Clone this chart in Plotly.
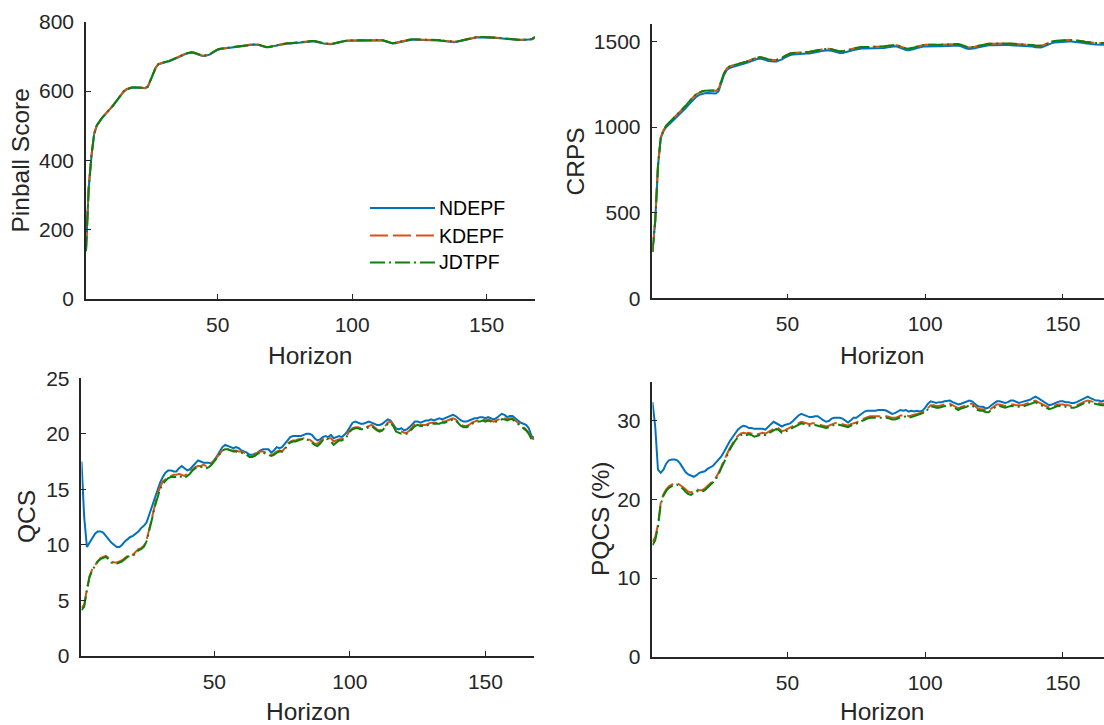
import plotly.graph_objects as go

# Forecast horizon (hours ahead)
HORIZON = list(range(1, 169))

# ---- Pinball score ----
PINBALL_NDEPF = [140, 320, 410, 475, 500, 512, 522, 531, 539, 547,
                 557, 567, 578, 589, 598, 604, 607, 609, 610, 609,
                 608, 608, 608, 612, 630, 652, 668, 677, 680, 682,
                 684, 686, 689, 692, 696, 699, 703, 707, 710, 711,
                 710, 707, 704, 702, 701, 702, 705, 710, 715, 719,
                 721, 722, 723, 723, 723, 724, 725, 726, 727, 729,
                 731, 733, 734, 734, 733, 730, 728, 726, 726, 727,
                 729, 731, 733, 735, 736, 737, 737, 738, 738, 739,
                 740, 741, 742, 743, 743, 743, 742, 740, 738, 736,
                 735, 735, 736, 738, 740, 742, 744, 745, 745, 745,
                 745, 745, 745, 745, 746, 746, 747, 747, 747, 747,
                 746, 744, 741, 738, 737, 738, 740, 742, 744, 746,
                 747, 748, 748, 748, 748, 748, 748, 748, 748, 748,
                 747, 746, 745, 744, 743, 742, 741, 741, 742, 744,
                 746, 748, 750, 752, 753, 754, 755, 755, 755, 755,
                 755, 755, 754, 753, 752, 751, 750, 749, 748, 748,
                 747, 747, 747, 747, 747, 747, 749, 754]
PINBALL_KDEPF = [142, 322, 412, 476, 501, 513, 523, 532, 540, 548,
                 558, 568, 579, 590, 599, 605, 608, 610, 611, 610,
                 609, 609, 609, 613, 631, 653, 669, 678, 681, 683,
                 685, 687, 690, 693, 697, 700, 704, 708, 711, 712,
                 711, 708, 705, 703, 702, 703, 706, 711, 716, 720,
                 722, 723, 724, 724, 724, 725, 726, 727, 728, 730,
                 732, 734, 735, 735, 734, 731, 729, 727, 727, 728,
                 730, 732, 734, 736, 737, 738, 738, 739, 739, 740,
                 741, 742, 743, 744, 744, 744, 743, 741, 739, 737,
                 736, 736, 737, 739, 741, 743, 745, 746, 746, 746,
                 746, 746, 746, 746, 747, 747, 748, 748, 748, 748,
                 747, 745, 742, 739, 738, 739, 741, 743, 745, 747,
                 748, 749, 749, 749, 749, 749, 749, 749, 749, 749,
                 748, 747, 746, 745, 744, 743, 742, 742, 743, 745,
                 747, 749, 751, 753, 754, 755, 756, 756, 756, 756,
                 756, 756, 755, 754, 753, 752, 751, 750, 749, 749,
                 748, 748, 748, 748, 748, 748, 750, 755]
PINBALL_JDTPF = [138, 318, 410, 476, 501, 513, 523, 532, 540, 548,
                 558, 568, 579, 590, 599, 605, 608, 610, 611, 610,
                 609, 609, 609, 613, 631, 653, 669, 678, 681, 683,
                 685, 687, 690, 693, 697, 700, 704, 708, 711, 712,
                 711, 708, 705, 703, 702, 703, 706, 711, 716, 720,
                 722, 723, 724, 724, 724, 725, 726, 727, 728, 730,
                 732, 734, 735, 735, 734, 731, 729, 727, 727, 728,
                 730, 732, 734, 736, 737, 738, 738, 739, 739, 740,
                 741, 742, 743, 744, 744, 744, 743, 741, 739, 737,
                 736, 736, 737, 739, 741, 743, 745, 746, 746, 746,
                 746, 746, 746, 746, 747, 747, 748, 748, 748, 748,
                 747, 745, 742, 739, 738, 739, 741, 743, 745, 747,
                 748, 749, 749, 749, 749, 749, 749, 749, 749, 749,
                 748, 747, 746, 745, 744, 743, 742, 742, 743, 745,
                 747, 749, 751, 753, 754, 755, 756, 756, 756, 756,
                 756, 756, 755, 754, 753, 752, 751, 750, 749, 749,
                 748, 748, 748, 748, 748, 748, 751, 756]

# ---- CRPS ----
CRPS_NDEPF = [272, 450, 770, 935, 975, 1000, 1015, 1030, 1045, 1060,
              1075, 1092, 1110, 1128, 1146, 1163, 1178, 1188, 1194, 1197,
              1199, 1199, 1198, 1196, 1210, 1260, 1305, 1333, 1345, 1350,
              1354, 1358, 1362, 1367, 1373, 1379, 1386, 1392, 1397, 1400,
              1398, 1392, 1386, 1383, 1382, 1383, 1387, 1395, 1405, 1414,
              1420, 1423, 1425, 1426, 1427, 1428, 1429, 1430, 1432, 1435,
              1438, 1442, 1446, 1448, 1448, 1445, 1440, 1435, 1433, 1433,
              1436, 1440, 1445, 1450, 1454, 1457, 1458, 1458, 1458, 1458,
              1458, 1458, 1459, 1460, 1462, 1465, 1468, 1470, 1471, 1468,
              1462, 1455, 1450, 1448, 1450, 1455, 1461, 1466, 1469, 1471,
              1472, 1472, 1472, 1472, 1472, 1472, 1473, 1474, 1475, 1476,
              1477, 1476, 1472, 1465, 1459, 1456, 1457, 1460, 1464, 1468,
              1472, 1475, 1477, 1478, 1479, 1479, 1479, 1479, 1479, 1479,
              1478, 1478, 1477, 1477, 1477, 1477, 1476, 1474, 1470, 1466,
              1464, 1465, 1470, 1478, 1486, 1490, 1493, 1495, 1497, 1498,
              1499, 1499, 1499, 1498, 1496, 1494, 1492, 1489, 1486, 1484,
              1483, 1482, 1482, 1482, 1482, 1481, 1481, 1480]
CRPS_KDEPF = [272, 452, 775, 940, 982, 1008, 1024, 1040, 1055, 1071,
              1087, 1104, 1123, 1142, 1161, 1178, 1192, 1202, 1208, 1211,
              1213, 1213, 1213, 1211, 1222, 1270, 1315, 1342, 1354, 1359,
              1363, 1367, 1371, 1376, 1382, 1388, 1395, 1401, 1406, 1409,
              1407, 1401, 1395, 1392, 1391, 1392, 1396, 1404, 1414, 1423,
              1429, 1432, 1434, 1435, 1436, 1437, 1438, 1439, 1441, 1444,
              1447, 1451, 1455, 1457, 1457, 1454, 1449, 1444, 1442, 1442,
              1445, 1449, 1454, 1459, 1463, 1466, 1467, 1467, 1467, 1467,
              1467, 1467, 1468, 1469, 1471, 1474, 1477, 1479, 1480, 1477,
              1471, 1464, 1459, 1457, 1459, 1464, 1470, 1475, 1478, 1480,
              1481, 1481, 1481, 1481, 1481, 1481, 1482, 1483, 1484, 1485,
              1486, 1485, 1481, 1474, 1468, 1465, 1466, 1469, 1473, 1477,
              1481, 1484, 1486, 1487, 1488, 1488, 1488, 1488, 1488, 1488,
              1487, 1487, 1486, 1486, 1486, 1486, 1485, 1483, 1479, 1475,
              1473, 1474, 1479, 1487, 1495, 1499, 1502, 1504, 1506, 1507,
              1508, 1508, 1508, 1507, 1505, 1503, 1501, 1498, 1495, 1493,
              1492, 1491, 1491, 1491, 1491, 1490, 1490, 1489]
CRPS_JDTPF = [270, 450, 772, 938, 981, 1008, 1025, 1041, 1056, 1072,
              1088, 1105, 1124, 1143, 1162, 1179, 1193, 1203, 1209, 1212,
              1214, 1214, 1214, 1212, 1223, 1270, 1315, 1342, 1354, 1359,
              1363, 1367, 1371, 1376, 1382, 1388, 1395, 1401, 1406, 1409,
              1407, 1401, 1395, 1392, 1391, 1392, 1396, 1404, 1414, 1423,
              1429, 1432, 1434, 1435, 1436, 1437, 1438, 1439, 1441, 1444,
              1447, 1451, 1455, 1457, 1457, 1454, 1449, 1444, 1442, 1442,
              1445, 1449, 1454, 1459, 1463, 1466, 1467, 1467, 1467, 1467,
              1467, 1467, 1468, 1469, 1471, 1474, 1477, 1479, 1480, 1477,
              1471, 1464, 1459, 1457, 1459, 1464, 1470, 1475, 1478, 1480,
              1481, 1481, 1481, 1481, 1481, 1481, 1482, 1483, 1484, 1485,
              1486, 1485, 1481, 1474, 1468, 1465, 1466, 1469, 1473, 1477,
              1481, 1484, 1486, 1487, 1488, 1488, 1488, 1488, 1488, 1488,
              1487, 1487, 1486, 1486, 1486, 1486, 1485, 1483, 1479, 1475,
              1473, 1474, 1479, 1487, 1495, 1499, 1502, 1504, 1506, 1507,
              1508, 1508, 1508, 1507, 1505, 1503, 1501, 1498, 1495, 1493,
              1492, 1491, 1491, 1491, 1491, 1490, 1490, 1489]

# ---- QCS ----
QCS_NDEPF = [17.5, 12.5, 9.8, 10.2, 10.7, 11.0, 11.2, 11.2, 11.1, 10.8,
             10.4, 10.2, 10.0, 9.8, 9.8, 10.0, 10.3, 10.5, 10.7, 10.8,
             11.0, 11.2, 11.5, 11.7, 12.0, 12.7, 13.5, 14.3, 15.0, 15.6,
             16.1, 16.5, 16.7, 16.7, 16.6, 16.6, 16.9, 17.1, 16.9, 16.7,
             16.8, 17.1, 17.3, 17.6, 17.5, 17.4, 17.4, 17.4, 17.3, 17.6,
             18.0, 18.4, 18.8, 19.0, 18.9, 18.8, 18.7, 18.8, 18.7, 18.5,
             18.4, 18.3, 18.1, 18.1, 18.2, 18.3, 18.5, 18.6, 18.6, 18.6,
             18.3, 18.5, 18.8, 18.7, 18.8, 19.1, 19.5, 19.7, 19.8, 19.8,
             19.8, 19.8, 19.9, 20.0, 20.0, 19.9, 19.6, 19.4, 19.5, 19.7,
             19.8, 19.7, 19.9, 19.6, 19.7, 19.8, 19.7, 19.9, 20.2, 20.6,
             21.0, 21.1, 21.0, 20.9, 20.9, 21.0, 21.1, 21.0, 20.9, 20.8,
             20.8, 20.9, 21.1, 21.3, 21.2, 20.9, 20.5, 20.4, 20.5, 20.3,
             20.4, 20.6, 20.9, 21.1, 21.1, 21.0, 21.1, 21.2, 21.2, 21.3,
             21.2, 21.3, 21.4, 21.3, 21.4, 21.5, 21.6, 21.7, 21.6, 21.4,
             21.2, 21.1, 21.1, 21.2, 21.3, 21.4, 21.4, 21.5, 21.5, 21.4,
             21.5, 21.4, 21.3, 21.4, 21.6, 21.8, 21.7, 21.5, 21.6, 21.6,
             21.4, 21.2, 21.0, 20.9, 20.8, 20.5, 19.8, 19.6]
QCS_KDEPF = [4.3, 4.6, 6.0, 7.2, 7.8, 8.2, 8.5, 8.8, 8.9, 9.0,
             8.8, 8.5, 8.4, 8.4, 8.5, 8.6, 8.8, 9.0, 9.2, 9.1,
             9.4, 9.6, 9.7, 9.9, 10.4, 11.4, 12.5, 13.6, 14.5, 15.2,
             15.7, 15.9, 16.1, 16.2, 16.3, 16.3, 16.4, 16.3, 16.2, 16.4,
             16.6, 16.8, 17.0, 17.1, 17.1, 17.2, 17.1, 17.2, 17.4, 17.6,
             17.9, 18.2, 18.5, 18.6, 18.6, 18.5, 18.5, 18.5, 18.4, 18.4,
             18.3, 18.2, 18.0, 18.0, 18.1, 18.3, 18.4, 18.4, 18.3, 18.2,
             18.1, 18.2, 18.4, 18.5, 18.4, 18.7, 19.1, 19.3, 19.4, 19.4,
             19.5, 19.5, 19.6, 19.6, 19.5, 19.3, 19.1, 19.1, 19.3, 19.5,
             19.7, 19.6, 19.6, 19.3, 19.4, 19.5, 19.5, 19.6, 19.9, 20.3,
             20.5, 20.6, 20.6, 20.5, 20.5, 20.6, 20.7, 20.8, 20.6, 20.4,
             20.3, 20.4, 20.7, 21.0, 21.1, 20.8, 20.3, 20.2, 20.2, 20.1,
             20.1, 20.3, 20.6, 20.9, 20.9, 20.8, 20.8, 20.8, 20.9, 21.0,
             21.0, 21.0, 21.0, 21.1, 21.1, 21.2, 21.3, 21.4, 21.3, 21.0,
             20.8, 20.7, 20.7, 20.8, 21.0, 21.1, 21.2, 21.2, 21.3, 21.2,
             21.3, 21.2, 21.1, 21.2, 21.3, 21.4, 21.4, 21.3, 21.4, 21.4,
             21.2, 21.0, 20.8, 20.6, 20.4, 20.1, 19.6, 19.5]
QCS_JDTPF = [4.1, 4.4, 5.9, 7.1, 7.7, 8.1, 8.5, 8.7, 8.8, 8.9,
             8.7, 8.4, 8.3, 8.3, 8.4, 8.5, 8.7, 8.9, 9.0, 9.0,
             9.2, 9.5, 9.6, 9.8, 10.3, 11.2, 12.3, 13.4, 14.3, 15.0,
             15.5, 15.8, 16.0, 16.1, 16.1, 16.1, 16.2, 16.1, 16.0, 16.2,
             16.4, 16.7, 16.9, 17.0, 17.0, 17.0, 16.9, 17.0, 17.2, 17.5,
             17.8, 18.2, 18.5, 18.6, 18.6, 18.5, 18.4, 18.4, 18.3, 18.3,
             18.2, 18.1, 17.9, 17.9, 18.0, 18.2, 18.3, 18.3, 18.2, 18.1,
             18.0, 18.1, 18.3, 18.4, 18.4, 18.6, 19.0, 19.2, 19.3, 19.3,
             19.4, 19.5, 19.5, 19.5, 19.4, 19.2, 19.0, 18.9, 19.1, 19.4,
             19.6, 19.5, 19.3, 19.0, 19.2, 19.4, 19.4, 19.5, 19.8, 20.2,
             20.4, 20.5, 20.5, 20.4, 20.4, 20.5, 20.6, 20.7, 20.5, 20.3,
             20.2, 20.3, 20.6, 20.9, 21.0, 20.7, 20.2, 20.1, 20.0, 20.0,
             20.0, 20.2, 20.5, 20.7, 20.8, 20.7, 20.7, 20.7, 20.8, 20.9,
             20.9, 20.9, 20.9, 21.0, 21.0, 21.1, 21.2, 21.3, 21.2, 20.9,
             20.7, 20.6, 20.6, 20.7, 20.9, 21.0, 21.1, 21.1, 21.2, 21.1,
             21.2, 21.1, 21.0, 21.1, 21.2, 21.3, 21.3, 21.2, 21.3, 21.3,
             21.1, 20.9, 20.7, 20.5, 20.3, 20.0, 19.5, 19.4]

# ---- PQCS (%) ----
PQCS_NDEPF = [32.4, 29.3, 23.8, 23.4, 23.8, 24.6, 25.0, 25.1, 25.1, 25.0,
              24.6, 24.0, 23.5, 23.2, 23.0, 22.9, 23.1, 23.4, 23.5, 23.6,
              23.9, 24.1, 24.3, 24.7, 25.1, 25.5, 26.1, 26.8, 27.4, 27.9,
              28.4, 28.9, 29.2, 29.4, 29.3, 29.1, 29.1, 29.0, 29.0, 29.0,
              29.0, 28.9, 29.3, 29.6, 29.9, 29.7, 29.4, 29.3, 29.5, 29.6,
              29.7, 30.0, 30.4, 30.7, 30.9, 30.8, 30.6, 30.5, 30.5, 30.6,
              30.6, 30.3, 30.1, 29.9, 30.0, 30.3, 30.4, 30.4, 30.4, 30.3,
              30.0, 29.8, 30.1, 30.4, 30.4, 30.7, 31.0, 31.2, 31.3, 31.3,
              31.3, 31.3, 31.4, 31.4, 31.4, 31.3, 31.1, 30.9, 31.0, 31.2,
              31.4, 31.3, 31.4, 31.2, 31.3, 31.2, 31.3, 31.2, 31.3, 31.7,
              32.2, 32.5, 32.4, 32.3, 32.4, 32.4, 32.5, 32.6, 32.6, 32.4,
              32.2, 32.1, 32.2, 32.3, 32.4, 32.6, 32.5, 32.2, 31.9, 31.8,
              31.8, 31.6, 31.7, 32.0, 32.3, 32.5, 32.5, 32.4, 32.3, 32.4,
              32.6, 32.6, 32.4, 32.3, 32.4, 32.5, 32.6, 32.7, 32.9, 33.1,
              32.9, 32.7, 32.4, 32.2, 32.0, 32.1, 32.3, 32.4, 32.5, 32.5,
              32.4, 32.4, 32.3, 32.3, 32.4, 32.6, 32.8, 33.0, 33.1, 32.9,
              32.7, 32.6, 32.6, 32.5, 32.6, 32.5, 32.4, 32.3]
PQCS_KDEPF = [14.6, 15.2, 16.8, 19.6, 20.7, 21.3, 21.7, 21.9, 22.1, 22.1,
              21.9, 21.6, 21.3, 21.0, 20.9, 21.1, 21.3, 21.2, 21.2, 21.4,
              21.7, 22.1, 22.4, 22.8, 23.4, 24.2, 25.0, 25.8, 26.5, 27.1,
              27.7, 28.1, 28.4, 28.5, 28.4, 28.5, 28.4, 28.2, 28.3, 28.4,
              28.5, 28.4, 28.6, 28.9, 29.1, 29.2, 29.0, 28.7, 28.8, 29.0,
              29.1, 29.3, 29.6, 29.8, 29.9, 29.8, 29.7, 29.6, 29.7, 29.7,
              29.6, 29.5, 29.4, 29.3, 29.4, 29.6, 29.7, 29.8, 29.7, 29.6,
              29.5, 29.4, 29.6, 29.7, 29.8, 30.0, 30.2, 30.4, 30.5, 30.6,
              30.6, 30.6, 30.6, 30.6, 30.6, 30.6, 30.5, 30.4, 30.4, 30.5,
              30.7, 30.7, 30.8, 30.6, 30.7, 30.8, 30.9, 31.0, 31.1, 31.3,
              31.7, 32.0, 32.0, 31.9, 31.9, 32.0, 32.1, 32.2, 32.2, 32.0,
              31.8, 31.6, 31.8, 31.9, 32.0, 32.2, 32.2, 31.9, 31.6, 31.5,
              31.5, 31.3, 31.3, 31.6, 31.9, 32.1, 32.1, 32.0, 31.9, 32.0,
              32.1, 32.1, 32.0, 32.0, 32.0, 32.1, 32.2, 32.3, 32.4, 32.6,
              32.4, 32.2, 32.0, 31.8, 31.7, 31.8, 32.0, 32.1, 32.1, 32.1,
              32.0, 32.0, 31.9, 31.9, 32.0, 32.2, 32.4, 32.5, 32.6, 32.5,
              32.4, 32.3, 32.3, 32.2, 32.2, 32.1, 32.0, 31.9]
PQCS_JDTPF = [14.2, 14.8, 16.5, 19.4, 20.5, 21.1, 21.5, 21.7, 21.9, 21.9,
              21.7, 21.4, 21.0, 20.7, 20.6, 20.8, 21.1, 21.0, 21.0, 21.2,
              21.5, 21.9, 22.2, 22.6, 23.2, 24.0, 24.8, 25.6, 26.3, 26.9,
              27.5, 27.9, 28.2, 28.3, 28.2, 28.3, 28.2, 28.0, 28.1, 28.2,
              28.3, 28.2, 28.4, 28.7, 28.9, 29.0, 28.8, 28.5, 28.6, 28.8,
              28.9, 29.1, 29.4, 29.6, 29.7, 29.6, 29.5, 29.4, 29.5, 29.5,
              29.4, 29.3, 29.2, 29.1, 29.2, 29.4, 29.5, 29.6, 29.5, 29.4,
              29.3, 29.2, 29.4, 29.5, 29.6, 29.8, 30.0, 30.2, 30.3, 30.4,
              30.4, 30.4, 30.4, 30.4, 30.4, 30.4, 30.3, 30.2, 30.2, 30.3,
              30.5, 30.5, 30.6, 30.4, 30.5, 30.6, 30.7, 30.8, 30.9, 31.1,
              31.5, 31.8, 31.8, 31.7, 31.7, 31.8, 31.9, 32.0, 32.0, 31.8,
              31.6, 31.4, 31.6, 31.7, 31.8, 32.0, 32.0, 31.7, 31.4, 31.3,
              31.3, 31.1, 31.1, 31.4, 31.7, 31.9, 31.9, 31.8, 31.7, 31.8,
              31.9, 31.9, 31.8, 31.8, 31.8, 31.9, 32.0, 32.1, 32.2, 32.4,
              32.2, 32.0, 31.8, 31.6, 31.5, 31.6, 31.8, 31.9, 31.9, 31.9,
              31.8, 31.8, 31.7, 31.7, 31.8, 32.0, 32.2, 32.3, 32.4, 32.3,
              32.2, 32.1, 32.1, 32.0, 32.0, 31.9, 31.8, 31.7]

METHODS = ["NDEPF", "KDEPF", "JDTPF"]
COLORS = {"NDEPF": "#0072BD", "KDEPF": "#D95319", "JDTPF": "#0A820A"}
DASHES = {"NDEPF": "solid", "KDEPF": "18px,5px", "JDTPF": "15px,4px,2px,4px"}

PANELS = [
    # (axis suffix, y-label, series by method)
    ("", "Pinball Score", {"NDEPF": PINBALL_NDEPF, "KDEPF": PINBALL_KDEPF, "JDTPF": PINBALL_JDTPF}),
    ("2", "CRPS", {"NDEPF": CRPS_NDEPF, "KDEPF": CRPS_KDEPF, "JDTPF": CRPS_JDTPF}),
    ("3", "QCS", {"NDEPF": QCS_NDEPF, "KDEPF": QCS_KDEPF, "JDTPF": QCS_JDTPF}),
    ("4", "PQCS (%)", {"NDEPF": PQCS_NDEPF, "KDEPF": PQCS_KDEPF, "JDTPF": PQCS_JDTPF}),
]

FONT = "Liberation Sans, Arial, Helvetica, sans-serif"
INK = "#262626"

fig = go.Figure()
for suffix, _, series in PANELS:
    for m in METHODS:
        fig.add_trace(go.Scatter(
            x=HORIZON, y=series[m], mode="lines", name=m,
            xaxis="x" + suffix, yaxis="y" + suffix,
            line=dict(color=COLORS[m], width=2, dash=DASHES[m]),
            showlegend=False,
        ))


def axis_style(**kw):
    base = dict(
        showline=True, linecolor=INK, linewidth=1.5,
        ticks="inside", ticklen=5, tickwidth=1, tickcolor=INK,
        showgrid=False, zeroline=False, mirror=False,
        tickfont=dict(family=FONT, size=21, color=INK),
        ticklabelstandoff=6, fixedrange=True, automargin=False,
    )
    base.update(kw)
    return base


X_TICKS = [50, 100, 150]
fig.update_layout(
    width=1104, height=725,
    margin=dict(l=0, r=0, t=0, b=0, pad=0, autoexpand=False),
    paper_bgcolor="white", plot_bgcolor="white",
    showlegend=False,
    xaxis=axis_style(domain=[0.0779, 0.4846], range=[1, 168], tickvals=X_TICKS, anchor="y"),
    yaxis=axis_style(domain=[0.5876, 0.9701], range=[0, 800],
                     tickvals=[0, 200, 400, 600, 800], anchor="x"),
    xaxis2=axis_style(domain=[0.5910, 1.0], range=[1, 164.9], tickvals=X_TICKS, anchor="y2"),
    yaxis2=axis_style(domain=[0.5886, 0.9665], range=[0, 1600],
                      tickvals=[0, 500, 1000, 1500], anchor="x2"),
    xaxis3=axis_style(domain=[0.0738, 0.4839], range=[1, 168], tickvals=X_TICKS, anchor="y3"),
    yaxis3=axis_style(domain=[0.0956, 0.4782], range=[0, 25],
                      tickvals=[0, 5, 10, 15, 20, 25], anchor="x3"),
    xaxis4=axis_style(domain=[0.5910, 1.0], range=[1, 164.9], tickvals=X_TICKS, anchor="y4"),
    yaxis4=axis_style(domain=[0.0942, 0.4735], range=[0, 35],
                      tickvals=[0, 10, 20, 30], anchor="x4"),
)

W, H = 1104.0, 725.0
label_font = dict(family=FONT, size=24.5, color=INK)

# x-axis titles (centre x in px, centre y in px)
for cx, cy in [(310, 355), (882, 355), (308, 711), (882, 711)]:
    fig.add_annotation(text="Horizon", x=cx / W, y=1 - cy / H, xref="paper", yref="paper",
                       xanchor="center", yanchor="middle", showarrow=False, font=label_font)

# y-axis titles
for (_, ylabel, _), (cx, cy) in zip(PANELS, [(20, 160.5), (575, 161.5), (26, 517), (600, 519)]):
    fig.add_annotation(text=ylabel, x=cx / W, y=1 - cy / H, xref="paper", yref="paper",
                       xanchor="center", yanchor="middle", textangle=-90,
                       showarrow=False, font=label_font)

# Legend in the Pinball panel: sample line + method name
for m, ly in zip(METHODS, [208, 235.5, 262.5]):
    fig.add_shape(type="line", xref="paper", yref="paper",
                  x0=370 / W, x1=435 / W, y0=1 - ly / H, y1=1 - ly / H,
                  line=dict(color=COLORS[m], width=2, dash=DASHES[m]))
    fig.add_annotation(text=m, x=437 / W, y=1 - ly / H, xref="paper", yref="paper",
                       xanchor="left", yanchor="middle", showarrow=False,
                       font=dict(family=FONT, size=19.5, color="#000000"))

fig.write_html("out.html")
